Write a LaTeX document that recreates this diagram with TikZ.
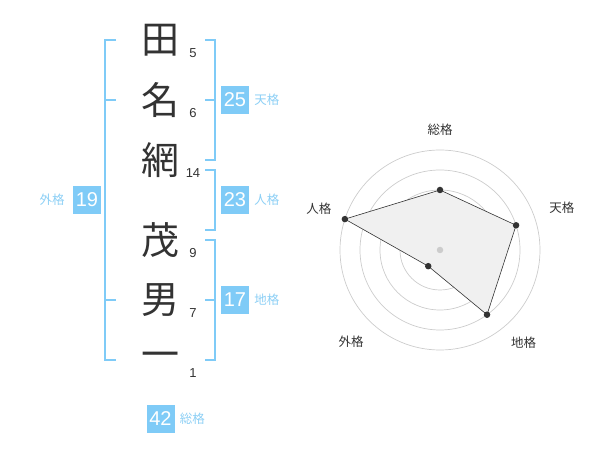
\documentclass[tikz,border=0pt]{standalone}
\usepackage{fontspec}
\setmainfont{Liberation Sans}
\newfontfamily\jp{Noto Sans CJK JP}
\usetikzlibrary{positioning}
\definecolor{kaku}{HTML}{7FCBF7}
\definecolor{kakutext}{HTML}{8CCFF5}
\definecolor{ink}{HTML}{333333}

\begin{document}
\begin{tikzpicture}[x=1pt, y=-1pt,
    char/.style={font=\jp\fontsize{38}{38}\selectfont, text=ink, inner sep=0pt},
    strokes/.style={font=\fontsize{13}{13}\selectfont, text=ink, inner sep=0pt},
    kakubox/.style={fill=kaku, text=white, font=\fontsize{20}{20}\selectfont, minimum width=28pt, minimum height=28pt, inner sep=0pt},
    kakulabel/.style={font=\jp\fontsize{12.5}{12.5}\selectfont, text=kakutext, inner sep=0pt},
    bracket/.style={draw=kaku, line width=1.6pt},
    ring/.style={draw=black!20, line width=0.7pt},
    axislabel/.style={font=\jp\fontsize{12.5}{12.5}\selectfont, text=ink, inner sep=0pt},
    dot/.style={circle, fill=ink, inner sep=0pt, minimum size=6.5pt}]

    \useasboundingbox (0,0) rectangle (600,470);

    \node (c1) [char] at (160,40) {田};
    \node (c2) [char, on grid, below=60pt of c1] {名};
    \node (c3) [char, on grid, below=60pt of c2] {網};
    \node (c4) [char, on grid, below=80pt of c3] {茂};
    \node (c5) [char, on grid, below=60pt of c4] {男};
    \node (c6) [char, on grid, below=60pt of c5] {一};

    \node (n1) [strokes] at (193,53) {5};
    \node (n2) [strokes, on grid, below=60pt of n1] {6};
    \node (n3) [strokes, on grid, below=60pt of n2] {14};
    \node (n4) [strokes, on grid, below=80pt of n3] {9};
    \node (n5) [strokes, on grid, below=60pt of n4] {7};
    \node (n6) [strokes, on grid, below=60pt of n5] {1};

    \draw [bracket] (116,40) -- (105,40) -- (105,360) -- (116,360);
    \draw [bracket] (105,100) -- (116,100);
    \draw [bracket] (105,300) -- (116,300);
    \draw [bracket] (205,40) -- (215,40) -- (215,160) -- (205,160);
    \draw [bracket] (215,100) -- (205,100);
    \draw [bracket] (205,170) -- (215,170) -- (215,230) -- (205,230);
    \draw [bracket] (205,240) -- (215,240) -- (215,360) -- (205,360);
    \draw [bracket] (215,300) -- (205,300);

    \node (ten) [kakubox] at (235,100) {25};
    \node (tenl) [kakulabel, right=5pt of ten] {天格};
    \node (jin) [kakubox] at (235,200) {23};
    \node (jinl) [kakulabel, right=5pt of jin] {人格};
    \node (chi) [kakubox] at (235,300) {17};
    \node (chil) [kakulabel, right=5pt of chi] {地格};
    \node (gai) [kakubox] at (87,200) {19};
    \node (gail) [kakulabel, left=8pt of gai] {外格};
    \node (sou) [kakubox] at (160.5,419) {42};
    \node (soul) [kakulabel, right=5pt of sou] {総格};

    \coordinate (o) at (440,250);
    \foreach \r in {20,40,...,100}
        \draw [ring] (o) circle (\r pt);

    \coordinate (vs) at ([shift={(90:60pt)}]o);
    \coordinate (vt) at ([shift={(18:80pt)}]o);
    \coordinate (vc) at ([shift={(-54:80pt)}]o);
    \coordinate (vg) at ([shift={(-126:20pt)}]o);
    \coordinate (vj) at ([shift={(162:100pt)}]o);
    \filldraw [fill=black!6, draw=ink, line width=0.6pt] (vs) -- (vt) -- (vc) -- (vg) -- (vj) -- cycle;

    \node (mid) [dot, fill=black!20] at (o) {};
    \node (ps) [dot] at (vs) {};
    \node (pt) [dot] at (vt) {};
    \node (pc) [dot] at (vc) {};
    \node (pg) [dot] at (vg) {};
    \node (pj) [dot] at (vj) {};

    \node (as) [axislabel] at ([shift={(90:120pt)}]o) {総格};
    \node (at) [axislabel] at ([shift={(19:129pt)}]o) {天格};
    \node (ac) [axislabel] at ([shift={(-48:125pt)}]o) {地格};
    \node (ag) [axislabel] at ([shift={(-134:128pt)}]o) {外格};
    \node (aj) [axislabel] at ([shift={(161:128pt)}]o) {人格};
\end{tikzpicture}
\end{document}
